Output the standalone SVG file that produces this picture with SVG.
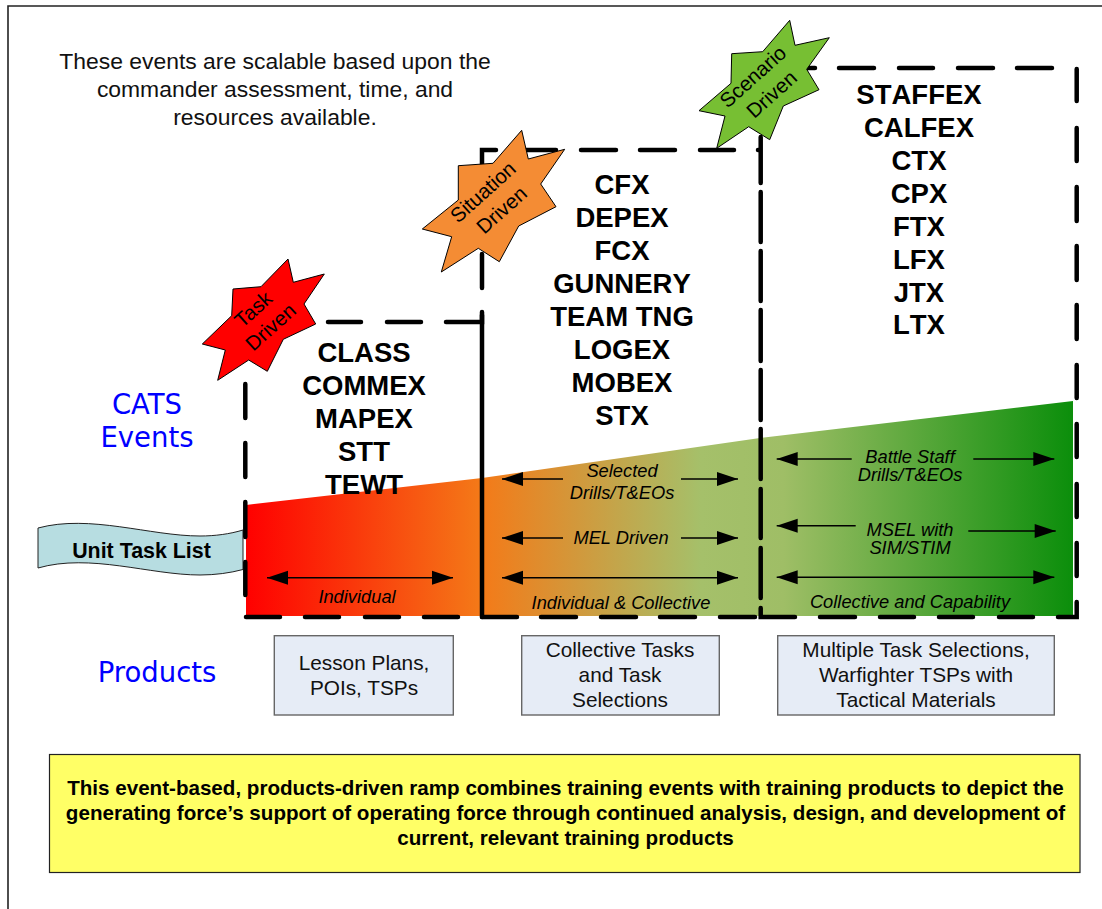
<svg xmlns="http://www.w3.org/2000/svg" width="1102" height="909" viewBox="0 0 1102 909">
<style>
text{font-family:"Liberation Sans",Arial,sans-serif;fill:#000;text-anchor:middle}
.big{font-size:27.5px;font-weight:bold;font-kerning:none}
.note{font-size:22.9px;fill:#111}
.blue{font-family:"DejaVu Sans",Verdana,sans-serif;font-size:27.5px;fill:#0000ff}
.it{font-size:18.3px;font-style:italic}
.prod{font-size:20.8px;fill:#111}
.star{stroke:#000;stroke-width:1}
.st{font-size:20.5px}
.sum{font-size:20.6px;font-weight:bold}
.box{fill:#e6ecf6;stroke:#666;stroke-width:1.4}
.dash{fill:none;stroke:#000;stroke-width:4.5;stroke-linecap:round}
.arr{fill:none;stroke:#000;stroke-width:1.6}
.l{marker-start:url(#hs)}
.r{marker-end:url(#he)}
</style>
<defs>
<linearGradient id="ramp" gradientUnits="userSpaceOnUse" x1="246" y1="0" x2="1073" y2="0">
<stop offset="0" stop-color="#ff0000"/>
<stop offset="0.285" stop-color="#f47a18"/>
<stop offset="0.55" stop-color="#a5c06a"/>
<stop offset="0.65" stop-color="#9fbe66"/>
<stop offset="1" stop-color="#0b8e0b"/>
</linearGradient>
<marker id="he" markerUnits="userSpaceOnUse" markerWidth="22" markerHeight="14" refX="21" refY="7" orient="auto" overflow="visible"><path d="M0 0L21 7L0 14Z" fill="#000"/></marker>
<marker id="hs" markerUnits="userSpaceOnUse" markerWidth="22" markerHeight="14" refX="0" refY="7" orient="auto" overflow="visible"><path d="M21 0L0 7L21 14Z" fill="#000"/></marker>
</defs>
<rect width="1102" height="909" fill="#fff"/>
<path d="M8 909V6H1102" fill="none" stroke="#222" stroke-width="1.6"/>
<g id="ramp-shape"><path d="M246 505L482 478L760 438L1073 401V616H246Z" fill="url(#ramp)"/></g>
<g id="unit-task-list">
<path d="M38 528C90 514 150 536 200 536C215 536 230 534 243 530V569.500C230 573 215 575 200 575C150 575 90 553 38 568Z" fill="#b7dde1" stroke="#222" stroke-width="1"/>
<text x="141.500" y="558" font-size="21.400" font-weight="bold">Unit Task List</text>
</g>
<g id="connectors">
<path class="dash" d="M328 322H361M387 322H421M446 322H482V312"/>
<path class="dash" d="M245.300 384V418M245.300 443V477M245.300 502V537M245.300 562V595"/>
<path class="dash" d="M482 315V617M482 254V288M482 194V150H496M522 150H556M581 150H616M640 150H675M700 150H734M758 150H759"/>
<path class="dash" d="M760.700 137V183M760.700 192V242M760.700 251V301M760.700 310V361M760.700 370V420M760.700 429V479M760.700 489V538M760.700 548V598M760.700 608V617H795"/>
<path class="dash" d="M806 68H815M839 68H874M899 68H933M958 68H993M1017 68H1052"/>
<path class="dash" d="M1076.700 69V101M1076.700 128V161M1076.700 187V221M1076.700 246V280M1076.700 305V339M1076.700 365V398M1076.700 424V457M1076.700 484V517M1076.700 543V576M1076.700 602V617H1058"/>
<path class="dash" d="M246 617H280M305 617H339M365 617H399M424 617H458M482 617H517M541 617H576M601 617H636M660 617H695M720 617H755M820 617H855M880 617H914M939 617H973M999 617H1033"/>
<path class="arr l r" d="M267 577.700H453"/>
<path class="arr l" d="M502 479H563"/><path class="arr r" d="M681 479H738"/>
<path class="arr l" d="M502 538H563"/><path class="arr r" d="M681 538H738"/>
<path class="arr l r" d="M502 577.700H738"/>
<path class="arr l" d="M776.700 459H851.700"/><path class="arr r" d="M973.300 459H1054.300"/>
<path class="arr l" d="M776.700 525.700H855.700"/><path class="arr r" d="M968.300 531H1055.700"/>
<path class="arr l r" d="M776.700 577.300H1054.300"/>
</g>
<g id="note"><text class="note" x="275" y="69">These events are scalable based upon the</text><text class="note" x="275" y="97">commander assessment, time, and</text><text class="note" x="275" y="125">resources available.</text></g>
<g id="label-cats"><text class="blue" x="147" y="414">CATS</text><text class="blue" x="147" y="447">Events</text></g>
<g id="label-products"><text class="blue" x="157" y="682">Products</text></g>
<g id="events-task"><text class="big" x="364" y="362">CLASS</text><text class="big" x="364" y="394.500">COMMEX</text><text class="big" x="364" y="427.500">MAPEX</text><text class="big" x="364" y="460.500">STT</text><text class="big" x="364" y="493.500">TEWT</text></g>
<g id="events-situation"><text class="big" x="622" y="194">CFX</text><text class="big" x="622" y="227">DEPEX</text><text class="big" x="622" y="260">FCX</text><text class="big" x="622" y="293">GUNNERY</text><text class="big" x="622" y="326">TEAM TNG</text><text class="big" x="622" y="359">LOGEX</text><text class="big" x="622" y="392">MOBEX</text><text class="big" x="622" y="425">STX</text></g>
<g id="events-scenario"><text class="big" x="919" y="103.500">STAFFEX</text><text class="big" x="919" y="136.500">CALFEX</text><text class="big" x="919" y="169.500">CTX</text><text class="big" x="919" y="202.500">CPX</text><text class="big" x="919" y="235.500">FTX</text><text class="big" x="919" y="268.500">LFX</text><text class="big" x="919" y="301.500">JTX</text><text class="big" x="919" y="333.500">LTX</text></g>
<g id="star-task">
<polygon class="star" fill="#ff0000" points="288,259 293.300,282.300 324.300,274 304,304 315.700,324 283.300,339.300 267.300,371.300 248.700,360 217.700,380.300 225.300,350 202.300,344 231.700,315.700 233,289 261,286.700"/>
<text class="st" transform="translate(253.300 309.300) rotate(-42)" y="7">Task</text>
<text class="st" transform="translate(270.700 327) rotate(-42)" y="7">Driven</text>
</g>
<g id="star-situation">
<polygon class="star" fill="#f48c34" points="521.700,130.300 528.300,159 564.700,149.300 540.700,184 556,206.700 518.700,226 499.300,261.700 478.300,248.300 441.300,272 451.700,236.700 422.300,229 458.300,200 458.300,165.700 493,163.300"/>
<text class="st" transform="translate(483 192) rotate(-42)" y="7">Situation</text>
<text class="st" transform="translate(501.700 210) rotate(-42)" y="7">Driven</text>
</g>
<g id="star-scenario">
<polygon class="star" fill="#77bf33" points="789.700,20.300 795,45.300 829.300,37.700 806.700,69.300 819,89.700 783.300,106 769.700,139.700 748.700,126.700 716.700,148.300 725,116 699,110.700 731,83.300 731.700,53.700 762.700,51.700"/>
<text class="st" transform="translate(753 76.700) rotate(-42)" y="7">Scenario</text>
<text class="st" transform="translate(771.700 94.300) rotate(-42)" y="7">Driven</text>
</g>
<g id="ramp-labels">
<text class="it" x="357" y="602.700">Individual</text>
<text class="it" x="622" y="477">Selected</text>
<text class="it" x="622" y="499">Drills/T&amp;EOs</text>
<text class="it" x="621" y="544">MEL Driven</text>
<text class="it" x="621" y="609">Individual &amp; Collective</text>
<text class="it" x="910" y="462.700">Battle Staff</text>
<text class="it" x="910" y="480.700">Drills/T&amp;EOs</text>
<text class="it" x="910" y="536">MSEL with</text>
<text class="it" x="910" y="554">SIM/STIM</text>
<text class="it" x="910" y="608">Collective and Capability</text>
</g>
<g id="product-1"><rect class="box" x="274.300" y="635.700" width="179" height="79.300"/><text class="prod" x="364" y="670">Lesson Plans,</text><text class="prod" x="364" y="695">POIs, TSPs</text></g>
<g id="product-2"><rect class="box" x="521.700" y="635.700" width="197.600" height="79.300"/><text class="prod" x="620" y="656.700">Collective Tasks</text><text class="prod" x="620" y="681.700">and Task</text><text class="prod" x="620" y="706.700">Selections</text></g>
<g id="product-3"><rect class="box" x="777.700" y="635.700" width="276.600" height="79.300"/><text class="prod" x="916" y="656.700">Multiple Task Selections,</text><text class="prod" x="916" y="681.700">Warfighter TSPs with</text><text class="prod" x="916" y="706.700">Tactical Materials</text></g>
<g id="summary"><rect x="49.500" y="754.500" width="1030.500" height="118" fill="#ffff66" stroke="#222" stroke-width="1.2"/>
<text class="sum" x="565.500" y="795">This event-based, products-driven ramp combines training events with training products to depict the</text>
<text class="sum" x="565.500" y="820">generating force’s support of operating force through continued analysis, design, and development of</text>
<text class="sum" x="565.500" y="845">current, relevant training products</text></g>
</svg>
